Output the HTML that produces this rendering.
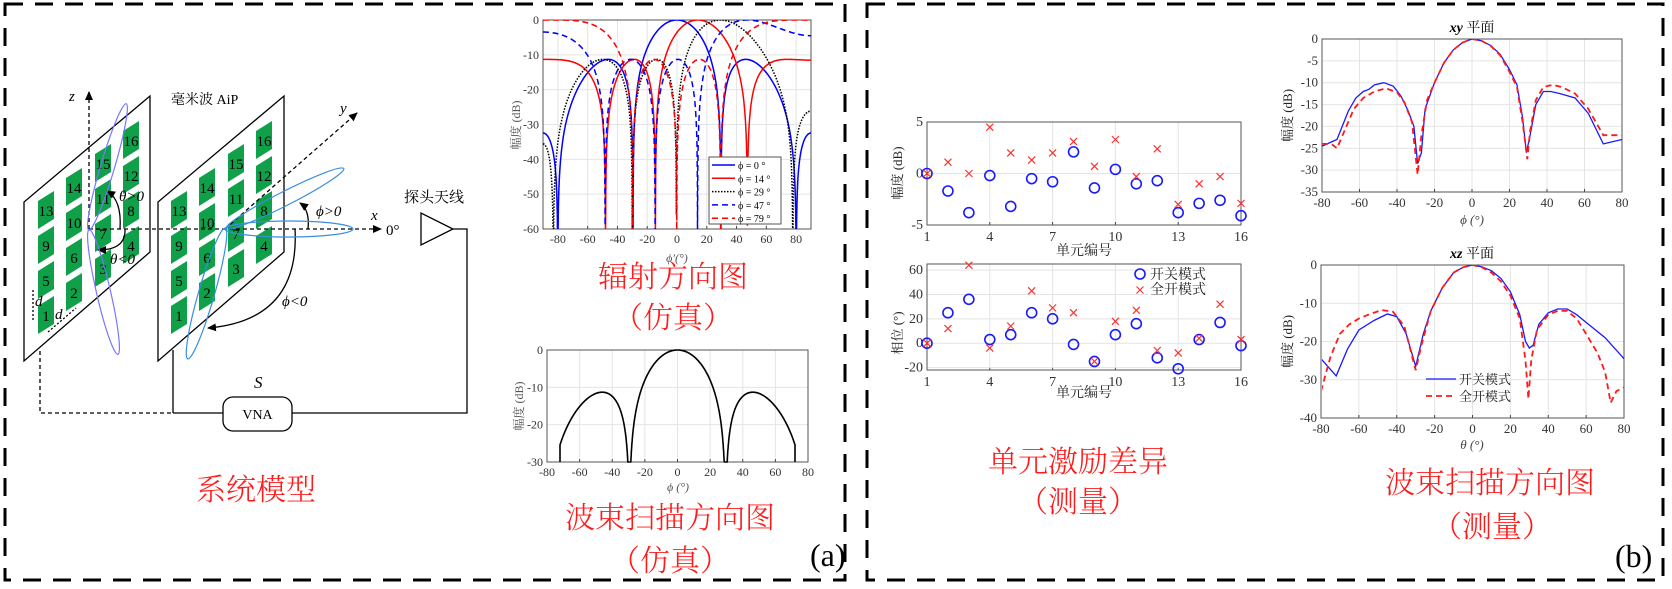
<!DOCTYPE html>
<html><head><meta charset="utf-8"><style>
html,body{margin:0;padding:0;background:#fff}
svg{display:block}
text{font-family:"Liberation Serif","Noto Serif CJK SC",serif}
.r{font-family:"Liberation Serif","Noto Serif CJK SC",serif;font-size:30px;fill:#ff1a1a;font-weight:300}
</style></head><body>
<svg id="s" width="1672" height="589" viewBox="0 0 1672 589" xmlns="http://www.w3.org/2000/svg">
<defs>
<marker id="ar" markerWidth="10" markerHeight="10" refX="8" refY="5" orient="auto" markerUnits="userSpaceOnUse"><path d="M0,1 L9,5 L0,9 z" fill="#000"/></marker>
<clipPath id="c1"><rect x="543" y="20" width="268" height="209"/></clipPath>
<clipPath id="c5"><rect x="1322" y="39" width="300" height="153"/></clipPath>
<clipPath id="c6"><rect x="1322" y="265" width="302" height="153"/></clipPath>
</defs>
<rect x="5" y="4" width="840" height="576" fill="none" stroke="#000" stroke-width="3" stroke-dasharray="18,12"/>
<rect x="867" y="4" width="796" height="576" fill="none" stroke="#000" stroke-width="3" stroke-dasharray="18,12"/>

<g fill="none" stroke="#000">
<polygon points="24,361 24,202 150,96 150,252" stroke-width="1.3" fill="#fff"/>
<polygon points="158,361 158,202 284,96 284,252" stroke-width="1.3" fill="#fff"/>
</g>
<g id="patches"></g>
<g fill="none" stroke="#000" stroke-width="1.3">
<line x1="89" y1="229" x2="89" y2="92" stroke-dasharray="4,3" marker-end="url(#ar)"/>
<line x1="89" y1="229" x2="381" y2="229" stroke-dasharray="4,3" marker-end="url(#ar)"/>
<line x1="225" y1="229" x2="357" y2="113" stroke-dasharray="4,3" marker-end="url(#ar)"/>
<polygon points="421,213 421,245 453,229" fill="#fff"/>
<polyline points="453,229 467,229 467,413 292,413"/>
<line x1="173" y1="350" x2="173" y2="413"/>
<line x1="173" y1="413" x2="223" y2="413"/>
<polyline points="40,351 40,413 173,413" stroke-dasharray="4,3"/>
<rect x="223" y="397" width="69" height="34" rx="10" fill="#fff"/>
<path d="M120,229 Q122,200 107,191" marker-end="url(#ar)"/>
<path d="M125,229 Q126,250 98,250" marker-end="url(#ar)"/>
<path d="M308,229 Q310,210 300,203" marker-end="url(#ar)"/>
<path d="M295,229 Q300,320 208,328" marker-end="url(#ar)"/>
<line x1="33" y1="290" x2="33" y2="322" stroke-dasharray="2,2"/>
<line x1="48" y1="332" x2="76" y2="308" stroke-dasharray="2,2"/>
</g>
<g fill="none" stroke-width="1.2">
<ellipse cx="0" cy="0" rx="66" ry="7" stroke="#7777ff" transform="translate(107.5,167) rotate(-73.5)"/>
<ellipse cx="0" cy="0" rx="64" ry="7" stroke="#7777ff" transform="translate(103.5,292) rotate(77)"/>
<ellipse cx="0" cy="0" rx="66" ry="7" stroke="#3a8ee0" transform="translate(285,198.5) rotate(-27)"/>
<ellipse cx="0" cy="0" rx="64" ry="8" stroke="#3a8ee0" transform="translate(289,229)"/>
<ellipse cx="0" cy="0" rx="68" ry="8" stroke="#3a8ee0" transform="translate(206.5,293.5) rotate(106)"/>
</g>
<g font-size="15" fill="#000">
<text x="69" y="101" font-style="italic">z</text>
<text x="371" y="220" font-style="italic">x</text>
<text x="386" y="235">0°</text>
<text x="340" y="113" font-style="italic">y</text>
<text x="171" y="104" font-size="14">毫米波 AiP</text>
<text x="404" y="202" font-size="15">探头天线</text>
<text x="119" y="201" font-style="italic">θ&gt;0</text>
<text x="110" y="264" font-style="italic">θ&lt;0</text>
<text x="316" y="216" font-style="italic">ϕ&gt;0</text>
<text x="282" y="306" font-style="italic">ϕ&lt;0</text>
<text x="35" y="306" font-style="italic">d</text>
<text x="55" y="319" font-style="italic">d</text>
<text x="254" y="388" font-style="italic" font-size="17">S</text>
<text x="257.5" y="419" text-anchor="middle" font-size="14">VNA</text>
</g>
<text class="r" x="256" y="500" text-anchor="middle">系统模型</text>

<g id="p1"></g>
<text class="r" x="673" y="287" text-anchor="middle">辐射方向图</text>
<text class="r" x="673" y="328" text-anchor="middle">（仿真）</text>
<g id="p2"></g>
<text class="r" x="670" y="528" text-anchor="middle">波束扫描方向图</text>
<text class="r" x="670" y="571" text-anchor="middle">（仿真）</text>
<text x="810" y="566" font-size="32" fill="#000">(a)</text>

<g id="p3"></g><g id="p4"></g>
<text class="r" x="1078" y="472" text-anchor="middle">单元激励差异</text>
<text class="r" x="1078" y="512" text-anchor="middle">（测量）</text>
<g id="p5"></g><g id="p6"></g>
<text class="r" x="1490" y="493" text-anchor="middle">波束扫描方向图</text>
<text class="r" x="1492" y="537" text-anchor="middle">（测量）</text>
<text x="1615" y="567" font-size="32" fill="#000">(b)</text>
</svg>
<script>
var NS="http://www.w3.org/2000/svg";
function el(g,tag,a,txt){var e=document.createElementNS(NS,tag);for(var k in a)e.setAttribute(k,a[k]);if(txt!=null)e.textContent=txt;g.appendChild(e);return e;}
(function(){var g=document.getElementById('patches');
var cols=[[46,315],[74,292],[103,268],[131,245]];
for(var p=0;p<2;p++){var off=p*133;
for(var r=0;r<4;r++)for(var c=0;c<4;c++){var n=r*4+c+1;var cx=cols[c][0]+off,cy=cols[c][1]-r*35;
el(g,'polygon',{points:(cx-8)+','+(cy-9)+' '+(cx+8)+','+(cy-19)+' '+(cx+8)+','+(cy+9)+' '+(cx-8)+','+(cy+19),fill:'#10a04a'});
el(g,'text',{x:cx,y:cy+6,'text-anchor':'middle','font-size':15,fill:'#000'},n);}}})();
function axes(g,o){
 var X=function(v){return o.x0+(v-o.vx0)/(o.vx1-o.vx0)*(o.x1-o.x0)};
 var Y=function(v){return o.y1-(v-o.vy0)/(o.vy1-o.vy0)*(o.y1-o.y0)};
 o.xt.forEach(function(v){var x=X(v);el(g,'line',{x1:x,x2:x,y1:o.y0,y2:o.y1,stroke:'#e4e4e4'});
  el(g,'line',{x1:x,x2:x,y1:o.y1,y2:o.y1-3,stroke:'#444'});
  el(g,'text',{x:x,y:o.y1+14+(o.fs?o.fs-12:0),'text-anchor':'middle','font-size':o.fs||12,fill:'#333'},v);});
 o.yt.forEach(function(v){var y=Y(v);el(g,'line',{x1:o.x0,x2:o.x1,y1:y,y2:y,stroke:'#e4e4e4'});
  el(g,'text',{x:o.x0-4,y:y+4,'text-anchor':'end','font-size':o.fs||12,fill:'#333'},v);});
 el(g,'rect',{x:o.x0,y:o.y0,width:o.x1-o.x0,height:o.y1-o.y0,fill:'none',stroke:'#555','stroke-width':1});
 return [X,Y];}
function path(g,pts,X,Y,st){var d='';pts.forEach(function(p,i){d+=(i?'L':'M')+X(p[0]).toFixed(1)+','+Y(p[1]).toFixed(1)});st.d=d;st.fill='none';return el(g,'path',st);}
function AF(phi,p0){var r=Math.PI/180;var psi=Math.PI*(Math.sin(phi*r)-Math.sin(p0*r))/0.985;
 var den=4*Math.sin(psi/2);var v=Math.abs(den)<1e-9?1:Math.abs(Math.sin(2*psi)/den);return 20*Math.log10(Math.max(v,1e-6));}
(function(){var g=document.getElementById('p1');
var f=axes(g,{x0:543,x1:811,y0:20,y1:229,vx0:-90,vx1:90,vy0:-60,vy1:0,xt:[-80,-60,-40,-20,0,20,40,60,80],yt:[0,-10,-20,-30,-40,-50,-60]});
var gc=el(g,'g',{'clip-path':'url(#c1)'});
var S=[[0,'#0000ff',''],[14,'#ff0000',''],[29,'#000','1.5,1.5'],[47,'#0000ff','6,4'],[79,'#ff0000','6,4']];
S.forEach(function(s){var pts=[];for(var a=-90;a<=90.001;a+=0.1){pts.push([a,Math.max(AF(a,s[0]),-62)]);}
 path(gc,pts,f[0],f[1],{stroke:s[1],'stroke-width':1.5,'stroke-dasharray':s[2]});});
el(g,'text',{x:520,y:125,transform:'rotate(-90 520 125)','text-anchor':'middle','font-size':12,fill:'#555'},'幅度 (dB)');
el(g,'text',{x:677,y:262,'text-anchor':'middle','font-size':12,fill:'#555','font-style':'italic'},'ϕ\u2032(°)');
el(g,'rect',{x:709,y:157,width:72,height:67,fill:'#fff',stroke:'#555'});
var L=['ϕ = 0 °','ϕ = 14 °','ϕ = 29 °','ϕ = 47 °','ϕ = 79 °'];
S.forEach(function(s,i){var y=165+i*13.3;el(g,'line',{x1:712,x2:735,y1:y,y2:y,stroke:s[1],'stroke-width':1.5,'stroke-dasharray':s[2]});
 el(g,'text',{x:738,y:y+4,'font-size':10,fill:'#000'},L[i]);});})();
(function(){var g=document.getElementById('p2');
var f=axes(g,{x0:547,x1:808,y0:350,y1:462,vx0:-80,vx1:80,vy0:-30,vy1:0,xt:[-80,-60,-40,-20,0,20,40,60,80],yt:[0,-10,-20,-30]});
var pts=[[-72,-30]];for(var a=-72;a<=72.001;a+=0.1)pts.push([a,Math.max(AF(a,0),-30)]);pts.push([72,-30]);
path(g,pts,f[0],f[1],{stroke:'#000','stroke-width':1.6});
el(g,'text',{x:523,y:406,transform:'rotate(-90 523 406)','text-anchor':'middle','font-size':12,fill:'#555'},'幅度 (dB)');
el(g,'text',{x:678,y:491,'text-anchor':'middle','font-size':12,fill:'#555','font-style':'italic'},'ϕ (°)');})();
var ba=[0,-1.7,-3.8,-0.2,-3.2,-0.5,-0.8,2.1,-1.4,0.4,-1.0,-0.7,-3.8,-2.9,-2.6,-4.1];
var ra=[0,1.1,0,4.5,2,1.3,2,3.1,0.7,3.3,-0.3,2.4,-3.0,-1.0,-0.3,-2.9];
var bp=[0,25,36,3,7,25,20,-1,-15,7,16,-12,-21,3,17,-2];
var rp=[0,12,64,-4,14,43,29,25,-15,18,27,-6,-8,4,32,3];
function scat(id,o,b,r,ylab,yl){var g=document.getElementById(id);var f=axes(g,o);
 b.forEach(function(v,i){el(g,'circle',{cx:f[0](i+1),cy:f[1](v),r:5,fill:'none',stroke:'#1a1aff','stroke-width':1.6});});
 r.forEach(function(v,i){var x=f[0](i+1),y=f[1](v);el(g,'path',{d:'M'+(x-3.5)+','+(y-3.5)+'l7,7M'+(x+3.5)+','+(y-3.5)+'l-7,7',stroke:'#ff3030','stroke-width':1.2});});
 el(g,'text',{x:902,y:yl,transform:'rotate(-90 902 '+yl+')','text-anchor':'middle','font-size':13,fill:'#222'},ylab);
 return g;}
scat('p3',{x0:927,x1:1241,y0:122,y1:225,vx0:1,vx1:16,vy0:-5,vy1:5,xt:[1,4,7,10,13,16],yt:[5,0,-5],fs:14},ba,ra,'幅度 (dB)',173);
el(document.getElementById('p3'),'text',{x:1084,y:255,'text-anchor':'middle','font-size':14,fill:'#222'},'单元编号');
var g4=scat('p4',{x0:927,x1:1241,y0:264,y1:370,vx0:1,vx1:16,vy0:-22,vy1:65,xt:[1,4,7,10,13,16],yt:[60,40,20,0,-20],fs:14},bp,rp,'相位 (°)',333);
el(g4,'text',{x:1084,y:397,'text-anchor':'middle','font-size':14,fill:'#222'},'单元编号');
el(g4,'rect',{x:1148,y:265,width:92,height:30,fill:'#fff'});
el(g4,'circle',{cx:1140,cy:274,r:5,fill:'none',stroke:'#1a1aff','stroke-width':1.6});
el(g4,'path',{d:'M1136.5,286.5l7,7M1143.5,286.5l-7,7',stroke:'#ff3030','stroke-width':1.2});
el(g4,'text',{x:1150,y:279,'font-size':14,fill:'#222'},'开关模式');
el(g4,'text',{x:1150,y:294,'font-size':14,fill:'#222'},'全开模式');
var xyB=[[-80,-24.5],[-72,-23],[-66,-16.5],[-62,-13.5],[-58,-12],[-55,-11.5],[-52,-10.5],[-47,-10],[-42,-10.8],[-38,-13],[-34,-16.5],[-31,-20],[-29,-28.5],[-27,-26],[-25,-16],[-20,-10],[-15,-5.5],[-10,-2.5],[-5,-0.8],[0,0],[5,-0.4],[10,-1.5],[15,-3.5],[20,-7],[24,-10.5],[27,-18],[29,-26],[31,-22],[34,-15],[38,-12],[42,-12],[47,-12.5],[55,-13.5],[62,-17],[70,-24],[80,-23]];
var xyR=[[-80,-24],[-75,-24],[-72,-25],[-68,-21],[-63,-16],[-58,-13.5],[-52,-12],[-46,-11.3],[-40,-12.2],[-36,-14.5],[-32,-19],[-29,-31],[-27,-22],[-24,-14],[-20,-10],[-15,-5.5],[-10,-2.5],[-5,-0.8],[0,0],[5,-0.4],[10,-1.6],[15,-3.7],[20,-7.5],[24,-11],[27,-19],[29.5,-27.5],[31,-21],[34,-14],[38,-11],[43,-10.5],[48,-11],[55,-12.5],[62,-16],[70,-22],[80,-22]];
var xzB=[[-80,-24.5],[-72,-29],[-66,-22],[-60,-17],[-52,-14.5],[-45,-12.8],[-40,-13.5],[-35,-18],[-30,-26.5],[-26,-18],[-22,-12],[-16,-6],[-10,-2],[-5,-0.6],[0,0],[5,-0.5],[10,-1.5],[15,-3.5],[20,-7],[25,-13],[28,-20],[30,-21.7],[32,-21],[35,-15.5],[40,-12.5],[45,-11.5],[50,-11.5],[55,-13],[60,-15],[70,-19],[80,-24.5]];
var xzR=[[-80,-33],[-75,-24],[-70,-18],[-65,-15.5],[-60,-14],[-54,-12.8],[-48,-11.8],[-42,-12.2],[-36,-16],[-30,-27.5],[-27,-21],[-22,-12],[-16,-6],[-10,-2],[-5,-0.6],[0,0],[5,-0.6],[10,-2],[15,-4.3],[20,-8],[25,-14],[28,-25],[29.5,-35],[31,-25],[34,-17],[40,-13],[45,-12],[50,-12],[55,-14],[60,-18],[66,-23],[70,-28],[73,-36],[76,-33],[80,-32]];
function lp(id,o,B,R,clip,title,ty,xl,xly){var g=document.getElementById(id);var f=axes(g,o);var gc=el(g,'g',{'clip-path':'url(#'+clip+')'});
 path(gc,B,f[0],f[1],{stroke:'#1a1aff','stroke-width':1.3});
 path(gc,R,f[0],f[1],{stroke:'#ff1a1a','stroke-width':1.8,'stroke-dasharray':'6,4'});
 var t=el(g,'text',{x:1472,y:ty,'text-anchor':'middle','font-size':14,fill:'#000'});
 el(t,'tspan',{'font-style':'italic','font-weight':'bold'},title);el(t,'tspan',{},' 平面');
 var yl=(o.y0+o.y1)/2;el(g,'text',{x:1292,y:yl,transform:'rotate(-90 1292 '+yl+')','text-anchor':'middle','font-size':13,fill:'#222'},'幅度 (dB)');
 el(g,'text',{x:1472,y:xly,'text-anchor':'middle','font-size':13,fill:'#444','font-style':'italic'},xl);return g;}
lp('p5',{x0:1322,x1:1622,y0:39,y1:192,vx0:-80,vx1:80,vy0:-35,vy1:0,xt:[-80,-60,-40,-20,0,20,40,60,80],yt:[0,-5,-10,-15,-20,-25,-30,-35],fs:13},xyB,xyR,'c5','xy',32,'ϕ (°)',224);
var g6=lp('p6',{x0:1321,x1:1624,y0:265,y1:418,vx0:-80,vx1:80,vy0:-40,vy1:0,xt:[-80,-60,-40,-20,0,20,40,60,80],yt:[0,-10,-20,-30,-40],fs:13},xzB,xzR,'c6','xz',258,'θ (°)',449);
el(g6,'line',{x1:1426,x2:1456,y1:379,y2:379,stroke:'#1a1aff','stroke-width':1.3});
el(g6,'line',{x1:1426,x2:1456,y1:396,y2:396,stroke:'#ff1a1a','stroke-width':1.8,'stroke-dasharray':'6,4'});
el(g6,'text',{x:1459,y:384,'font-size':13,fill:'#222'},'开关模式');
el(g6,'text',{x:1459,y:401,'font-size':13,fill:'#222'},'全开模式');
</script>
</body></html>
